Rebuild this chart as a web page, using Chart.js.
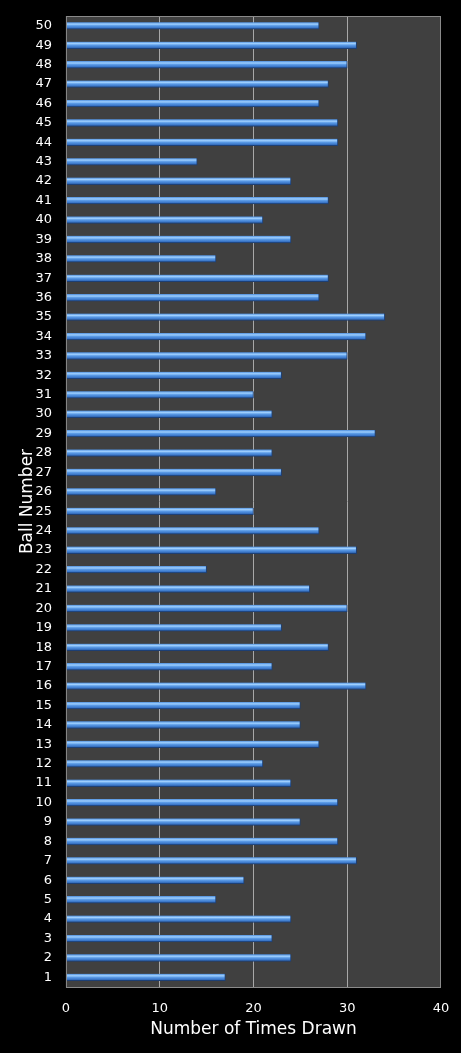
<!DOCTYPE html>
<html lang="en">
<head>
  <meta charset="UTF-8" />
  <title>Ball Number Frequency</title>
  <script src="https://cdn.jsdelivr.net/npm/chart.js"></script>
  <style>
    html, body { margin: 0; padding: 0; background: #000; }
    #wrap { width: 461px; height: 1053px; }
  </style>
</head>
<body>
  <div id="wrap"><canvas id="ballChart"></canvas></div>
  <script>
    // ball numbers 1..50 and how often each was drawn
    const ballNumbers = [
      "1","2","3","4","5","6","7","8","9","10",
      "11","12","13","14","15","16","17","18","19","20",
      "21","22","23","24","25","26","27","28","29","30",
      "31","32","33","34","35","36","37","38","39","40",
      "41","42","43","44","45","46","47","48","49","50"
    ];
    const timesDrawn = [
      17, 24, 22, 24, 16, 19, 31, 29, 25, 29,
      24, 21, 27, 25, 25, 32, 22, 28, 23, 30,
      26, 15, 31, 27, 20, 16, 23, 22, 33, 22,
      20, 23, 30, 32, 34, 27, 28, 16, 24, 21,
      28, 24, 14, 29, 29, 27, 28, 30, 31, 27
    ];
    const xTicks = [0, 10, 20, 30, 40];

    const FONT = "'DejaVu Sans', Verdana, sans-serif";

    // grey plot background + frame
    const plotFrame = {
      id: "plotFrame",
      beforeDraw(chart) {
        const { ctx, chartArea: a } = chart;
        ctx.save();
        ctx.fillStyle = "#404040";
        ctx.fillRect(a.left, a.top, a.right - a.left, a.bottom - a.top);
        ctx.restore();
      },
      afterDraw(chart) {
        const { ctx, chartArea: a } = chart;
        ctx.save();
        ctx.strokeStyle = "#8a8a8a";
        ctx.lineWidth = 1;
        ctx.strokeRect(a.left + 0.5, a.top + 0.5, a.right - a.left - 1, a.bottom - a.top);
        ctx.restore();
      }
    };

    // cylinder-ish shading like the original
    function barFill(context) {
      const chart = context.chart;
      const y = chart.scales.y;
      if (!y || context.dataIndex === undefined) return "#4f8fdc";
      const cy = y.getPixelForValue(context.dataIndex);
      if (!isFinite(cy)) return "#4f8fdc";
      const g = chart.ctx.createLinearGradient(0, cy - 3.5, 0, cy + 3.5);
      g.addColorStop(0, "#4d8ddb");
      g.addColorStop(0.28, "#9fd0ff");
      g.addColorStop(0.5, "#5b9be6");
      g.addColorStop(0.8, "#3a76c8");
      g.addColorStop(1, "#23508e");
      return g;
    }

    new Chart(document.getElementById("ballChart"), {
      type: "bar",
      data: {
        labels: ballNumbers,
        datasets: [{
          label: "Number of Times Drawn",
          data: timesDrawn,
          backgroundColor: barFill,
          borderColor: "#1d3f74",
          borderWidth: { top: 0, bottom: 1, left: 0, right: 1 },
          barThickness: 7
        }]
      },
      options: {
        indexAxis: "y",
        responsive: true,
        maintainAspectRatio: false,
        animation: false,
        layout: { padding: { top: 16, right: 20, bottom: 13, left: 17 } },
        plugins: {
          legend: { display: false },
          tooltip: { enabled: false }
        },
        scales: {
          x: {
            min: 0,
            max: 40,
            afterBuildTicks(scale) {
              scale.ticks = xTicks.map(v => ({ value: v }));
            },
            afterFit(scale) {
              scale.paddingLeft = 0;
              scale.paddingRight = 0;
            },
            grid: {
              color: ctx => (ctx.tick && (ctx.tick.value === 0 || ctx.tick.value === 40)) ? "rgba(0,0,0,0)" : "#a8a8a8",
              drawTicks: false
            },
            border: { display: false },
            ticks: { color: "#ffffff", font: { family: FONT, size: 13 }, padding: 14 },
            title: {
              display: true,
              text: "Number of Times Drawn",
              color: "#ffffff",
              font: { family: FONT, size: 17 },
              padding: { top: -11, bottom: 0 }
            }
          },
          y: {
            reverse: true,
            afterFit(scale) {
              scale.paddingTop = 0;
              scale.paddingBottom = 0;
            },
            grid: { display: false, drawTicks: false },
            border: { display: false },
            ticks: { color: "#ffffff", font: { family: FONT, size: 13 }, padding: 14, autoSkip: false },
            title: {
              display: true,
              text: "Ball Number",
              color: "#ffffff",
              font: { family: FONT, size: 17 },
              padding: { top: 0, bottom: -16 }
            }
          }
        }
      },
      plugins: [plotFrame]
    });
  </script>
</body>
</html>
